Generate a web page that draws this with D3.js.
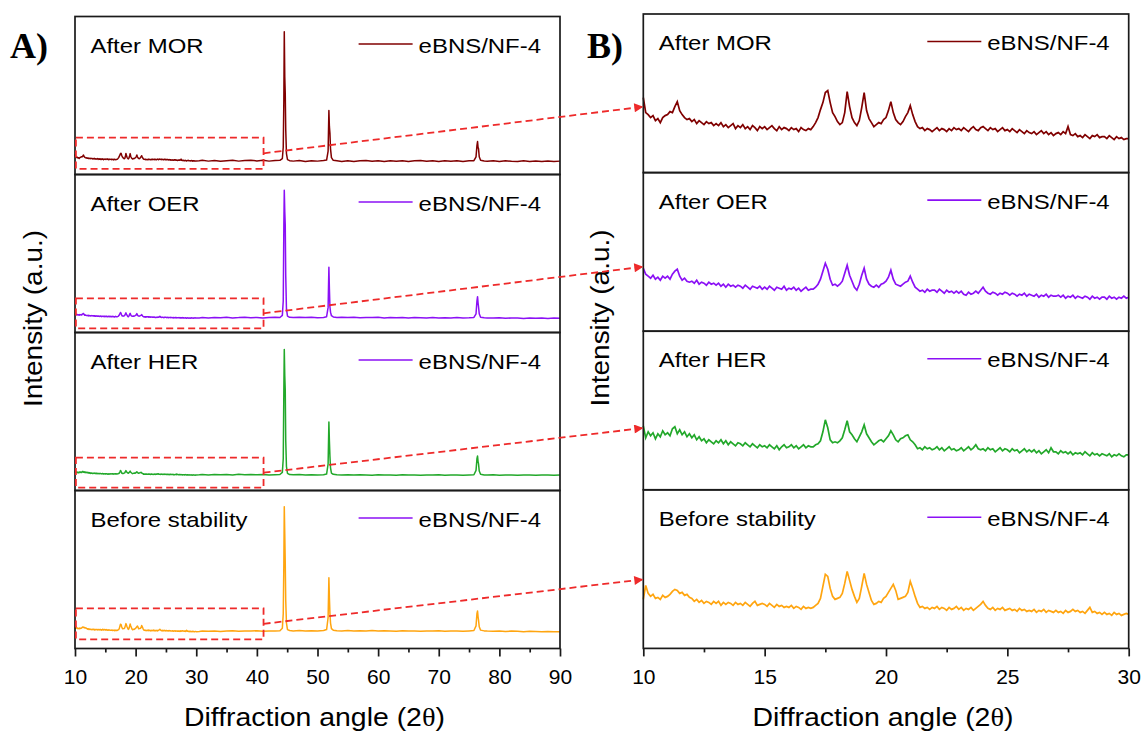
<!DOCTYPE html>
<html>
<head>
<meta charset="utf-8">
<script src="https://cdn.jsdelivr.net/npm/d3@7"></script>
<style>
  html, body { margin: 0; padding: 0; background: #ffffff; }
  svg { display: block; }
</style>
</head>
<body>
<svg id="chart" width="1143" height="735"></svg>
<script>
// ---------------- DATA ----------------
const conditions = ["After MOR", "After OER", "After HER", "Before stability"];
const sampleName = "eBNS/NF-4";

// sampling grid of the zoomed scans (2θ, step 0.1°, 10–30°)
const zoomTwoTheta = d3.range(0, 201).map(i => +(10 + i * 0.1).toFixed(1));

// zoomed-region intensities (a.u.), 10.0° … 30.0°
const zoomMOR = [
  75,60,58,55,57,52,54,50,55,57, 58,61,60,66,71,62,58,55,53,54,
  51,53,49,52,50,48,51,49,50,47, 49,47,50,46,48,45,47,49,44,47,
  45,48,44,46,43,47,45,42,46,44, 46,43,45,47,44,42,46,43,45,44,
  42,45,43,44,41,45,43,42,44,43, 46,50,55,63,70,80,82,70,60,56,
  51,48,50,60,81,66,55,50,47,52, 65,80,62,54,50,46,48,50,49,53,
  55,62,71,60,53,50,48,51,56,60, 67,58,51,46,44,45,42,44,43,41,
  43,45,42,44,43,41,44,42,45,43, 44,42,45,43,41,44,46,43,42,45,
  46,44,42,45,43,44,41,43,45,42, 43,41,44,42,40,43,41,39,42,40,
  39,41,38,40,42,39,41,38,40,37, 39,40,38,41,39,46,38,37,39,36,
  37,35,38,36,34,37,36,38,35,36, 36,34,37,35,33,36,34,35,33,34,
  34
];
const zoomOER = [
  63,57,55,53,56,52,54,51,55,53, 55,52,57,60,62,55,51,53,50,49,
  50,48,51,47,49,48,46,49,47,48, 46,48,45,47,44,47,45,46,44,46,
  45,43,46,44,42,45,44,43,45,42, 44,42,45,43,41,44,43,42,45,41,
  43,42,44,41,43,40,42,44,41,42, 42,44,47,52,60,68,62,52,46,47,
  45,47,50,58,66,56,50,44,41,47, 56,63,52,47,45,44,46,44,47,48,
  50,54,61,52,47,46,45,47,49,50, 55,49,44,42,40,41,39,42,40,41,
  41,39,42,40,38,41,39,40,38,40, 38,40,37,36,39,37,38,40,38,41,
  44,40,38,37,39,38,36,38,37,39, 38,36,38,37,35,37,36,38,35,37,
  36,35,37,34,36,35,37,34,36,35, 35,36,34,36,33,35,34,36,33,35,
  34,33,35,34,32,35,33,34,32,34, 34,32,35,33,34,32,34,33,35,33,
  34
];
const zoomHER = [
  64,52,58,54,57,51,56,53,59,55, 57,54,61,63,56,60,55,58,53,56,
  52,55,50,53,49,51,47,50,48,46, 49,47,50,46,49,45,48,46,44,47,
  46,44,47,45,43,46,44,42,45,43, 44,42,45,43,41,44,40,43,45,42,
  43,45,42,44,41,43,45,42,44,43, 43,45,46,49,58,70,62,50,47,48,
  47,49,52,60,69,58,55,51,48,53, 58,65,56,52,48,45,47,49,50,48,
  51,54,59,55,50,48,51,52,54,55, 50,48,45,41,42,40,43,41,42,40,
  41,43,40,42,39,41,43,40,41,39, 40,42,39,41,43,40,42,45,41,40,
  41,39,42,40,41,38,40,42,39,41, 40,38,41,39,40,37,39,41,38,40,
  38,40,37,39,36,38,40,37,42,38, 38,36,39,37,38,36,38,35,37,36,
  37,35,38,36,34,37,35,36,34,36, 35,34,36,33,35,34,36,34,33,35,
  35
];
const zoomBefore = [
  49,63,55,52,54,50,51,49,53,51, 52,54,57,59,58,55,56,53,54,51,
  50,47,49,46,48,45,47,46,44,47, 45,47,43,46,44,46,45,43,46,44,
  45,43,46,44,42,45,47,43,44,45, 44,42,45,43,41,44,42,43,41,42,
  41,43,40,42,41,39,42,40,41,40, 41,43,45,50,62,74,72,60,52,49,
  50,51,55,65,77,68,59,52,46,50, 62,75,64,56,48,44,45,47,46,50,
  52,56,60,64,58,49,50,51,52,56, 67,60,52,45,41,42,40,41,39,41,
  40,42,39,41,40,38,41,39,40,42, 39,41,38,40,39,41,38,40,42,44,
  47,43,40,39,41,38,40,39,41,38, 39,40,38,39,37,40,38,39,37,38,
  37,39,36,38,37,39,36,38,37,36, 38,36,37,35,38,36,37,39,37,38,
  36,37,35,38,41,36,37,35,36,34, 36,34,35,33,36,34,35,33,34,35,
  34
];

// wide scans beyond the zoomed region: [2θ, intensity]
const wideMOR = [
  [30.5,35],[31,38],[32,33],[33,37],[34,32],[35,36],[36,38],[37,33],[38,37],[39,39],
  [40,34],[41,38],[42,33],[43,37],[43.8,38],[44.2,48],[44.35,120],[44.45,420],[44.52,842],[44.6,560],
  [44.68,455],[44.76,230],[44.88,80],[45.05,42],[45.4,36],[46,33],[47,37],[48,31],[49,36],[50,33],
  [51,37],[51.5,40],[51.75,95],[51.88,349],[51.96,250],[52.05,209],[52.15,110],[52.3,55],[52.6,38],[53.2,35],
  [54,31],[55,36],[56,31],[57,35],[58,37],[59,32],[60,36],[61,31],[62,35],[63,32],
  [64,36],[65,31],[66,35],[67,37],[68,32],[69,36],[70,31],[71,35],[72,32],[73,36],
  [74,31],[75,35],[75.8,36],[76.15,60],[76.3,130],[76.4,155],[76.48,120],[76.56,111],[76.68,60],[76.9,38],
  [77.5,34],[78,32],[79,36],[80,31],[81,35],[82,32],[83,30],[84,35],[85,31],[86,34],
  [87,30],[88,34],[89,31],[90,33]
];
const wideOER = [
  [30.5,34],[31,36],[32,33],[33,37],[34,35],[35,38],[36,34],[37,36],[38,39],[39,35],
  [40,37],[41,34],[42,36],[43,38],[43.8,37],[44.2,50],[44.35,140],[44.45,614],[44.52,832],[44.6,700],
  [44.68,614],[44.76,300],[44.88,90],[45.05,45],[45.4,38],[46,37],[47,39],[48,36],[49,38],[50,35],
  [51,37],[51.5,42],[51.75,100],[51.88,351],[51.96,220],[52.05,104],[52.15,70],[52.3,48],[52.6,40],[53.2,37],
  [54,38],[55,36],[56,39],[57,35],[58,37],[59,36],[60,38],[61,34],[62,37],[63,35],
  [64,36],[65,34],[66,37],[67,35],[68,33],[69,36],[70,34],[71,35],[72,33],[73,36],
  [74,34],[75,35],[75.8,37],[76.15,60],[76.3,140],[76.4,167],[76.48,130],[76.56,104],[76.68,60],[76.9,38],
  [77.5,35],[78,34],[79,33],[80,35],[81,32],[82,34],[83,33],[84,31],[85,34],[86,32],
  [87,33],[88,31],[89,33],[90,32]
];
const wideHER = [
  [30.5,36],[31,38],[32,35],[33,39],[34,36],[35,38],[36,35],[37,40],[38,37],[39,39],
  [40,36],[41,38],[42,35],[43,37],[43.8,39],[44.2,55],[44.35,160],[44.45,688],[44.52,1000],[44.6,800],
  [44.68,688],[44.76,300],[44.88,100],[45.05,48],[45.4,38],[46,36],[47,38],[48,35],[49,37],[50,34],
  [51,36],[51.5,42],[51.75,120],[51.88,442],[51.96,300],[52.05,180],[52.15,90],[52.3,50],[52.6,40],[53.2,36],
  [54,35],[55,37],[56,34],[57,36],[58,35],[59,33],[60,36],[61,34],[62,35],[63,33],
  [64,36],[65,34],[66,35],[67,33],[68,35],[69,34],[70,36],[71,33],[72,35],[73,34],
  [74,33],[75,35],[75.8,37],[76.15,70],[76.3,160],[76.4,181],[76.48,140],[76.56,120],[76.68,65],[76.9,40],
  [77.5,35],[78,34],[79,36],[80,33],[81,35],[82,34],[83,33],[84,35],[85,34],[86,33],
  [87,35],[88,34],[89,33],[90,35]
];
const wideBefore = [
  [30.5,35],[31,37],[32,36],[33,38],[34,35],[35,37],[36,39],[37,36],[38,38],[39,37],
  [40,39],[41,36],[42,38],[43,37],[43.8,39],[44.2,52],[44.35,130],[44.45,401],[44.52,706],[44.6,560],
  [44.68,401],[44.76,200],[44.88,80],[45.05,45],[45.4,40],[46,38],[47,40],[48,37],[49,39],[50,38],
  [51,40],[51.5,45],[51.75,110],[51.88,324],[51.96,220],[52.05,132],[52.15,80],[52.3,50],[52.6,42],[53.2,39],
  [54,38],[55,40],[56,37],[57,39],[58,38],[59,40],[60,37],[61,39],[62,38],[63,36],
  [64,39],[65,37],[66,38],[67,36],[68,38],[69,37],[70,39],[71,36],[72,38],[73,37],
  [74,36],[75,38],[75.8,40],[76.15,65],[76.3,130],[76.4,145],[76.48,115],[76.56,96],[76.68,60],[76.9,42],
  [77.5,38],[78,37],[79,36],[80,38],[81,35],[82,37],[83,36],[84,34],[85,36],[86,35],
  [87,34],[88,35],[89,33],[90,34]
];

// zoomed window shown in panel A (2θ range and intensity range per scan)
const zoomWindow2Theta = [10.15, 41.1];
const zoomWindowIntensity = [[-16, 180], [-30.8, 156.7], [-62.8, 168], [-7.3, 159.4]];
// intensity at which each arrow meets panel B
const arrowTargetIntensity = [65.9, 64.5, 61.8, 69];

// axis ticks
const xTicksA = [10, 20, 30, 40, 50, 60, 70, 80, 90];
const xMinorA = [15, 25, 35, 45, 55, 65, 75, 85];
const xTicksB = [10, 15, 20, 25, 30];
const xMinorB = [12.5, 17.5, 22.5, 27.5];

// intensity ranges of each panel
const yDomainA = [[-50.6, 936.9], [-57, 930.5], [-84.4, 1130.6], [-56.7, 792.7]];
const yDomainB = [0, 158.6];

const zoomSeries = [zoomMOR, zoomOER, zoomHER, zoomBefore];
const wideSeries = [wideMOR, wideOER, wideHER, wideBefore];

// ---------------- STYLE / LAYOUT ----------------
const traceColors  = ["#800000", "#8b10f5", "#22a82a", "#ffa510"];
const legendColors = ["#800000", "#8b10f5", "#8b10f5", "#8b10f5"];
const frameColor = "#1a1a1a";
const arrowColor = "#ee2a2a";
const textColor = "#000000";
const SANS = "'Liberation Sans', Arial, Helvetica, sans-serif";
const SERIF = "'Liberation Serif', 'Times New Roman', serif";

const A = { left: 75, right: 560, top: 16.5, h: 158 };
const B = { left: 643.3, right: 1128.7, top: 14, h: 158.6 };

const svg = d3.select("#chart");
const xA = d3.scaleLinear().domain([10, 90]).range([A.left, A.right]);
const xB = d3.scaleLinear().domain([10, 30]).range([B.left, B.right]);

function stretch(sel, k) {
  sel.each(function () {
    const w = this.getComputedTextLength();
    this.setAttribute("textLength", (w * k).toFixed(2));
    this.setAttribute("lengthAdjust", "spacingAndGlyphs");
  });
}

svg.append("defs").append("marker")
  .attr("id", "arrowhead")
  .attr("viewBox", "0 0 10 10")
  .attr("refX", 10).attr("refY", 5)
  .attr("markerUnits", "userSpaceOnUse")
  .attr("markerWidth", 10).attr("markerHeight", 9)
  .attr("orient", "auto")
  .append("path").attr("d", "M0,0 L10,5 L0,10 Z").attr("fill", arrowColor);

const gLines = svg.append("g");
const gFrames = svg.append("g");
const gText = svg.append("g");
const gAnno = svg.append("g");

conditions.forEach((cond, i) => {
  const topA = A.top + i * A.h, botA = topA + A.h;
  const topB = B.top + i * B.h, botB = topB + B.h;
  const yA = d3.scaleLinear().domain(yDomainA[i]).range([botA, topA]);
  const yB = d3.scaleLinear().domain(yDomainB).range([botB, topB]);

  const zoomPts = zoomTwoTheta.map((t, k) => [t, zoomSeries[i][k]]);
  const widePts = zoomPts.concat(wideSeries[i]);

  gLines.append("path")
    .datum(widePts)
    .attr("fill", "none")
    .attr("stroke", traceColors[i])
    .attr("stroke-width", 1.5)
    .attr("stroke-linejoin", "round")
    .attr("d", d3.line().x(d => xA(d[0])).y(d => yA(d[1])));

  gLines.append("path")
    .datum(zoomPts)
    .attr("fill", "none")
    .attr("stroke", traceColors[i])
    .attr("stroke-width", 1.7)
    .attr("stroke-linejoin", "miter")
    .attr("d", d3.line().x(d => xB(d[0])).y(d => yB(d[1])));

  // frames, titles, legends
  [[A, topA], [B, topB]].forEach(([P, top]) => {
    gFrames.append("rect")
      .attr("x", P.left).attr("y", top)
      .attr("width", P.right - P.left).attr("height", P.h)
      .attr("fill", "none").attr("stroke", frameColor).attr("stroke-width", 1.7);

    const t = gText.append("text")
      .attr("x", P.left + 15.5).attr("y", top + 36)
      .attr("font-family", SANS).attr("font-size", 21).attr("fill", textColor)
      .text(cond);
    stretch(t, 1.14);

    const lt = gText.append("text")
      .attr("y", top + 36)
      .attr("font-family", SANS).attr("font-size", 21).attr("fill", textColor)
      .text(sampleName);
    stretch(lt, 1.14);
    const lw = +lt.attr("textLength");
    const tx = P.right - 19 - lw;
    lt.attr("x", tx);
    gText.append("line")
      .attr("x1", tx - 60).attr("x2", tx - 6)
      .attr("y1", top + 27.5).attr("y2", top + 27.5)
      .attr("stroke", legendColors[i]).attr("stroke-width", 1.6);
  });

  // zoom window + arrow
  const wx0 = xA(zoomWindow2Theta[0]), wx1 = xA(zoomWindow2Theta[1]);
  const wy0 = yA(zoomWindowIntensity[i][1]), wy1 = yA(zoomWindowIntensity[i][0]);
  gAnno.append("rect")
    .attr("x", wx0).attr("y", wy0)
    .attr("width", wx1 - wx0).attr("height", wy1 - wy0)
    .attr("fill", "none").attr("stroke", arrowColor)
    .attr("stroke-width", 1.8).attr("stroke-dasharray", "7,4");
  gAnno.append("line")
    .attr("x1", wx1).attr("y1", (wy0 + wy1) / 2)
    .attr("x2", xB(10)).attr("y2", yB(arrowTargetIntensity[i]))
    .attr("stroke", arrowColor).attr("stroke-width", 1.8)
    .attr("stroke-dasharray", "7,4")
    .attr("marker-end", "url(#arrowhead)");
});

// bottom axes
function drawAxis(P, x, major, minor) {
  const yBase = P.top + 4 * P.h;
  const g = svg.append("g").attr("transform", `translate(0,${yBase})`)
    .call(d3.axisBottom(x).tickValues(major).tickSize(8).tickSizeOuter(0)
      .tickPadding(13).tickFormat(d3.format("d")));
  g.select(".domain").remove();
  g.selectAll("line").attr("stroke", frameColor).attr("stroke-width", 1.7);
  g.selectAll("text").attr("font-family", SANS).attr("font-size", 21).attr("fill", textColor);
  const gm = svg.append("g").attr("transform", `translate(0,${yBase})`)
    .call(d3.axisBottom(x).tickValues(minor).tickSize(4).tickSizeOuter(0).tickFormat(""));
  gm.select(".domain").remove();
  gm.selectAll("line").attr("stroke", frameColor).attr("stroke-width", 1.7);
}
drawAxis(A, xA, xTicksA, xMinorA);
drawAxis(B, xB, xTicksB, xMinorB);

// axis titles
function xTitle(P) {
  const cx = (P.left + P.right) / 2, L = 261;
  const t = svg.append("text")
    .attr("x", cx - 3 - L / 2).attr("y", 726)
    .attr("font-family", SANS).attr("font-size", 25).attr("fill", textColor)
    .attr("textLength", L).attr("lengthAdjust", "spacingAndGlyphs");
  t.append("tspan").text("Diffraction angle (2");
  t.append("tspan").attr("font-family", SERIF).text("θ");
  t.append("tspan").text(")");
}
xTitle(A); xTitle(B);

function yTitle(x, cy) {
  const L = 177;
  svg.append("text")
    .attr("transform", `translate(${x},${cy}) rotate(-90)`)
    .attr("x", -L / 2).attr("y", 0)
    .attr("font-family", SANS).attr("font-size", 25).attr("fill", textColor)
    .attr("textLength", L).attr("lengthAdjust", "spacingAndGlyphs")
    .text("Intensity (a.u.)");
}
yTitle(41.5, 318.5);
yTitle(609, 318);

// panel letters
svg.append("text").attr("x", 10).attr("y", 58)
  .attr("font-family", SERIF).attr("font-weight", "bold").attr("font-size", 36).attr("fill", textColor)
  .text("A)");
svg.append("text").attr("x", 587).attr("y", 58)
  .attr("font-family", SERIF).attr("font-weight", "bold").attr("font-size", 36).attr("fill", textColor)
  .text("B)");

gAnno.raise();
</script>
</body>
</html>
